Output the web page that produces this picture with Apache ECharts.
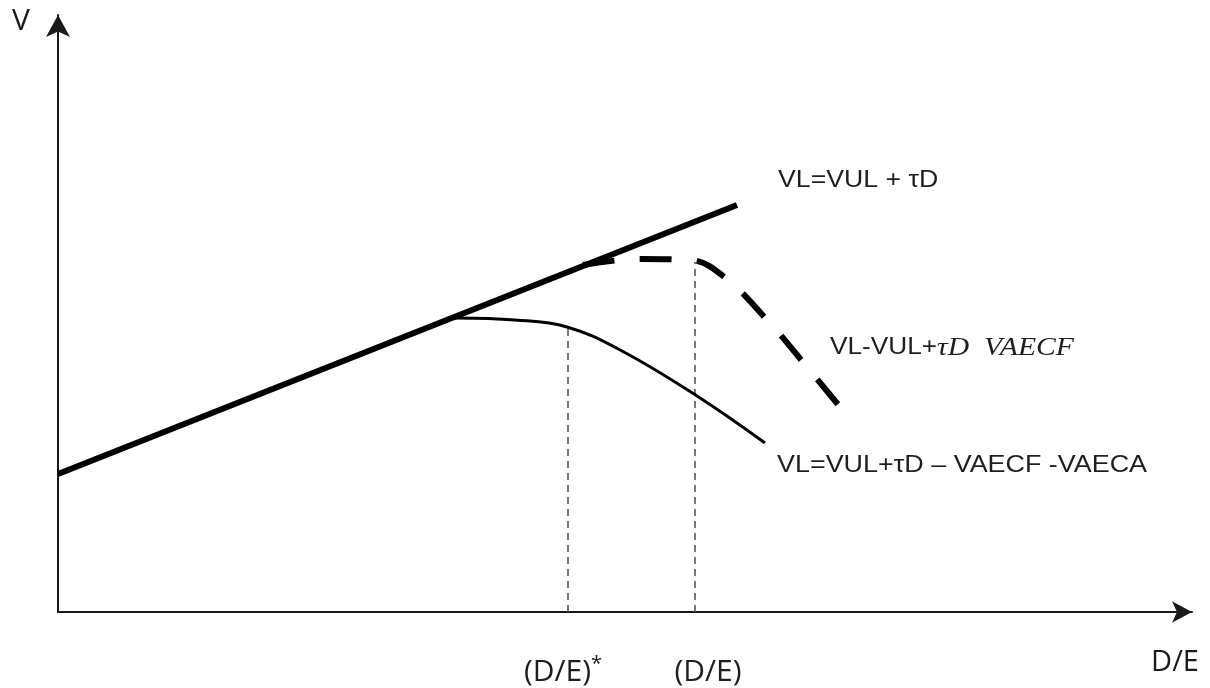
<!DOCTYPE html>
<html>
<head>
<meta charset="utf-8">
<script src="https://cdn.jsdelivr.net/npm/echarts@6/dist/echarts.min.js"></script>
<style>html,body{margin:0;padding:0;background:#fff}#c{width:1210px;height:688px}</style>
</head>
<body>
<div id="c"></div>
<script>
// Data in diagram units (x: D/E, y: V)
const taxLine = [[0, 138], [679, 407]];
const costlyCurve = [[397, 294], [457, 292], [509, 285], [564, 261], [639, 216], [707, 169]];
const dashedCurve = [[525, 347], [582, 353], [632, 352], [665, 336], [710, 291], [749, 245], [787, 199]];
const optimum1 = [[510, 0], [510, 283]];
const optimum2 = [[637, 0], [637, 350]];
const xTickLabels = ['(D/E)', '(D/E)'];
const lineLabels = ['VL=VUL + τD', 'VL-VUL+', 'τD  VAECF', 'VL=VUL+τD – VAECF -VAECA'];
const axisNames = ['V', 'D/E'];

const chart = echarts.init(document.getElementById('c'), null, {renderer: 'canvas'});
const option = {
  animation: false,
  backgroundColor: '#ffffff',
  grid: {left: 58, top: 15, right: 18, bottom: 76},
  xAxis: {
    type: 'value', min: 0, max: 1134,
    name: axisNames[1], nameLocation: 'end', nameGap: -17,
    nameTextStyle: {fontFamily: 'Open Sans', fontSize: 29, color: '#1a1a1a', align: 'center', verticalAlign: 'top', padding: [36, 0, 0, 0]},
    axisLine: {show: true, lineStyle: {color: '#1a1a1a', width: 2}, symbol: ['none', 'arrow'], symbolSize: [16, 20]},
    axisTick: {show: false}, axisLabel: {show: false}, splitLine: {show: false}
  },
  yAxis: {
    type: 'value', min: 0, max: 597,
    name: axisNames[0], nameLocation: 'end', nameGap: -6,
    nameTextStyle: {fontFamily: 'Open Sans', fontSize: 30, color: '#1a1a1a', align: 'right', verticalAlign: 'middle', padding: [0, 28, 0, 0]},
    axisLine: {show: true, lineStyle: {color: '#1a1a1a', width: 2}, symbol: ['none', 'arrow'], symbolSize: [18, 22]},
    axisTick: {show: false}, axisLabel: {show: false}, splitLine: {show: false}
  },
  series: [
    {type: 'line', data: optimum1, symbol: 'none', lineStyle: {color: '#555', width: 1.6, type: [7, 5]}, z: 1},
    {type: 'line', data: optimum2, symbol: 'none', lineStyle: {color: '#555', width: 1.6, type: [7, 5]}, z: 1},
    {type: 'line', data: taxLine, symbol: 'none', lineStyle: {color: '#000', width: 6}, z: 3},
    {type: 'line', data: costlyCurve, symbol: 'none', smooth: 0.4, lineStyle: {color: '#000', width: 3}, z: 2},
    {type: 'line', data: dashedCurve, symbol: 'none', smooth: 0.4, lineStyle: {color: '#000', width: 6, type: [32, 25], cap: 'butt'}, z: 2}
  ]
};
chart.setOption(option);

function px(p) { return chart.convertToPixel({gridIndex: 0}, p); }
const p1 = px([720, 431]);
const p2 = px([772, 264]);
const p3 = px([719, 146]);
const t1 = px([505, -60]);
const t2 = px([650, -60]);
const ink = '#1e1e1e';
chart.setOption({
  graphic: [
    {type: 'text', x: p1[0], y: p1[1], scaleX: 1.16, style: {text: lineLabels[0], fontFamily: 'Liberation Sans', fontSize: 23, fill: ink, verticalAlign: 'middle', align: 'left'}},
    {type: 'text', x: p2[0], y: p2[1], scaleX: 1.14, style: {
      text: '{a|' + lineLabels[1] + '}{b|' + lineLabels[2] + '}', fill: ink, verticalAlign: 'middle', align: 'left',
      rich: {a: {fontFamily: 'Liberation Sans', fontSize: 23, fill: ink}, b: {fontFamily: 'Liberation Serif', fontStyle: 'italic', fontSize: 26, fill: ink}}
    }},
    {type: 'text', x: p3[0], y: p3[1], scaleX: 1.17, style: {text: lineLabels[3], fontFamily: 'Liberation Sans', fontSize: 23, fill: ink, verticalAlign: 'middle', align: 'left'}},
    {type: 'text', x: t1[0], y: t1[1], style: {
      text: '{a|' + xTickLabels[0] + '}{s|*}', fill: ink, verticalAlign: 'middle', align: 'center',
      rich: {a: {fontFamily: 'Open Sans', fontSize: 30, fill: ink}, s: {fontFamily: 'Open Sans', fontSize: 20, fill: ink, verticalAlign: 'top', padding: [0, 0, 16, 0]}}
    }},
    {type: 'text', x: t2[0], y: t2[1], style: {text: xTickLabels[1], fontFamily: 'Open Sans', fontSize: 30, fill: ink, verticalAlign: 'middle', align: 'center'}}
  ]
});
</script>
</body>
</html>
